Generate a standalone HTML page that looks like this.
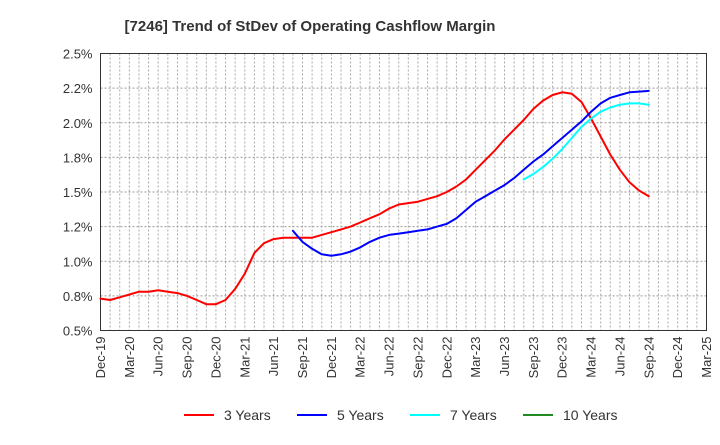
<!DOCTYPE html>
<html><head><meta charset="utf-8"><style>
body{margin:0;background:#fff;font-family:"Liberation Sans",Arial,sans-serif}
svg text{font-family:"Liberation Sans",Arial,sans-serif}
</style></head><body>
<svg id="chart" width="720" height="440" xmlns="http://www.w3.org/2000/svg">
<text x="310" y="31" text-anchor="middle" font-size="15" font-weight="bold" fill="#333">[7246]  Trend of StDev of Operating Cashflow Margin</text>
<g id="grid"></g><g id="axes"></g><g id="series"></g>
<g>
<g><line x1="184" y1="415" x2="214" y2="415" stroke="#ff0000" stroke-width="2"/><text x="224" y="420" font-size="14" fill="#333">3 Years</text></g>
<g><line x1="297" y1="415" x2="327" y2="415" stroke="#0000ff" stroke-width="2"/><text x="337" y="420" font-size="14" fill="#333">5 Years</text></g>
<g><line x1="410" y1="415" x2="440" y2="415" stroke="#00ffff" stroke-width="2"/><text x="450" y="420" font-size="14" fill="#333">7 Years</text></g>
<g><line x1="523" y1="415" x2="553" y2="415" stroke="#228b22" stroke-width="2"/><text x="563" y="420" font-size="14" fill="#333">10 Years</text></g>
</g>
</svg>
<script>
const xLabels=["Dec-19","Mar-20","Jun-20","Sep-20","Dec-20","Mar-21","Jun-21","Sep-21","Dec-21","Mar-22","Jun-22","Sep-22","Dec-22","Mar-23","Jun-23","Sep-23","Dec-23","Mar-24","Jun-24","Sep-24","Dec-24","Mar-25"];
const yTicks=[0.5,0.75,1.0,1.25,1.5,1.75,2.0,2.25,2.5];
const yLabels=["0.5%","0.8%","1.0%","1.2%","1.5%","1.8%","2.0%","2.2%","2.5%"];
const red=[0.73,0.72,0.74,0.76,0.78,0.78,0.79,0.78,0.77,0.75,0.72,0.69,0.69,
0.72,0.80,0.91,1.06,1.13,1.16,1.17,1.17,1.17,1.17,1.19,1.21,
1.23,1.25,1.28,1.31,1.34,1.38,1.41,1.42,1.43,1.45,1.47,1.50,
1.54,1.59,1.66,1.73,1.80,1.88,1.95,2.02,2.10,2.16,2.20,2.22,
2.21,2.15,2.03,1.90,1.77,1.66,1.57,1.51,1.47];
const redStart=0;
const blue=[1.22,1.14,1.09,1.05,1.04,
1.05,1.07,1.10,1.14,1.17,1.19,1.20,1.21,1.22,1.23,1.25,1.27,
1.31,1.37,1.43,1.47,1.51,1.55,1.60,1.66,1.72,1.77,1.83,1.89,
1.95,2.01,2.08,2.14,2.18,2.20,2.22,2.225,2.23];
const blueStart=20;
const cyan=[1.59,1.63,1.68,1.74,1.81,1.89,1.97,2.03,2.08,2.11,2.13,2.14,2.14,2.13];
const cyanStart=44;
const green=[];
const greenStart=0;

const L=100.5,R=706.5,T=53.5,B=330.5,months=63;
const ns="http://www.w3.org/2000/svg";
const xS=m=>L+(R-L)*m/months;
const yS=v=>B-(B-T)*(v-0.5)/2.0;
function mk(tag,attrs,parent){const e=document.createElementNS(ns,tag);for(const k in attrs)e.setAttribute(k,attrs[k]);parent.appendChild(e);return e;}
const grid=document.getElementById('grid'),axes=document.getElementById('axes'),ser=document.getElementById('series');
for(let m=1;m<months;m++){const l=mk('line',{x1:xS(m),x2:xS(m),y1:T,y2:B,stroke:'#aaa','stroke-dasharray':'2,2','stroke-width':1},grid);

}
yTicks.forEach((v,i)=>{if(i>0&&i<yTicks.length-1){const l=mk('line',{x1:L,x2:R,y1:yS(v),y2:yS(v),stroke:'#999','stroke-dasharray':'2,2','stroke-width':1},grid);

}
const t=mk('text',{x:L-8,y:yS(v)+5,'text-anchor':'end','font-size':13,fill:'#333'},axes);t.textContent=yLabels[i];

});
const fr=mk('rect',{x:L,y:T,width:R-L,height:B-T,fill:'none',stroke:'#333','stroke-width':1},axes);


xLabels.forEach((s,i)=>{const x=xS(i*3);const t=mk('text',{transform:`translate(${x+4.5},${B+6}) rotate(-90)`,'text-anchor':'end','font-size':13,fill:'#333'},axes);t.textContent=s;

});
function draw(arr,start,color,name){if(!arr.length)return;const pts=arr.map((v,i)=>xS(start+i).toFixed(1)+','+yS(v).toFixed(1)).join(' ');
const p=mk('polyline',{points:pts,fill:'none',stroke:color,'stroke-width':2,'stroke-linejoin':'round','stroke-linecap':'round'},ser);

}
draw(red,redStart,'#ff0000','line-3-years');
draw(blue,blueStart,'#0000ff','line-5-years');
draw(cyan,cyanStart,'#00ffff','line-7-years');
draw(green,greenStart,'#228b22','line-10-years');
</script>
</body></html>
